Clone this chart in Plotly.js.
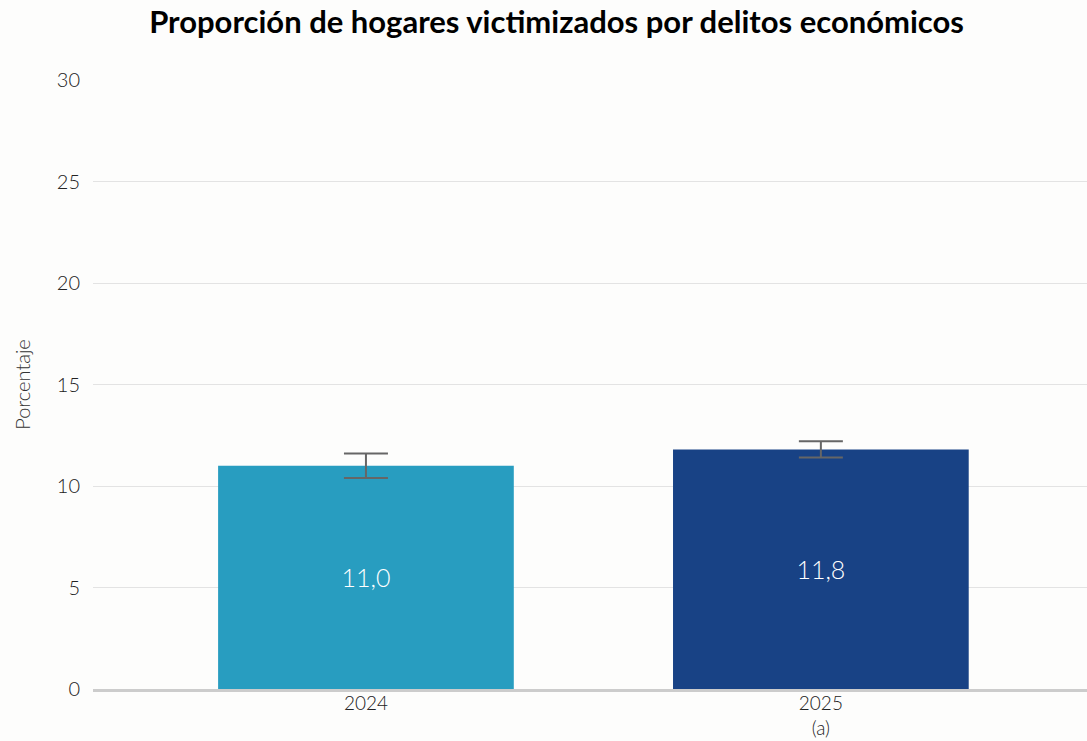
<!DOCTYPE html>
<html><head><meta charset="utf-8">
<script src="https://cdn.plot.ly/plotly-3.0.1.min.js"></script>
<style>html,body{margin:0;padding:0;background:#fdfdfc;}#chart{width:1087px;height:741px;}</style>
</head><body><div id="chart"></div>
<script>
const categories = ["2024", "2025<br>(a)"];
const values = [11.0, 11.8];
const errPlus = [0.6, 0.4];
const errMinus = [0.6, 0.4];
const labels = ["11,0", "11,8"];
const colors = ["#289DC0", "#184285"];

const trace = {
  type: "bar", x: categories, y: values,
  marker: {color: colors},
  width: 0.65,
  text: labels, textposition: "inside", insidetextanchor: "middle",
  textfont: {family: "Lato, sans-serif", size: 25, color: "#ffffff", weight: 300},
  error_y: {type: "data", symmetric: false, array: errPlus, arrayminus: errMinus,
            color: "#666666", thickness: 2, width: 22},
  hoverinfo: "none"
};
const layout = {
  width: 1087, height: 741,
  paper_bgcolor: "#fdfdfc", plot_bgcolor: "#fdfdfc",
  margin: {l: 93, r: 0, t: 80, b: 52},
  title: {text: "<b>Proporción de hogares victimizados por delitos económicos</b>",
          font: {family: "Lato, sans-serif", size: 31, color: "#000"}, x: 0.512, xanchor: "center", y: 0.97, yanchor: "middle"},
  xaxis: {type: "category", range: [-0.6, 1.585], tickfont: {family: "Lato, sans-serif", size: 19, color: "#222", weight: 300},
          showgrid: false, zeroline: false, showline: true, linecolor: "#cccccc", linewidth: 3, ticks: "", ticklabelstandoff: -5},
  yaxis: {range: [0, 30], dtick: 5, tickfont: {family: "Lato, sans-serif", size: 20, color: "#222", weight: 300},
          gridcolor: "#e3e3e3", gridwidth: 1, zeroline: false, ticks: "", ticklabelstandoff: 12,
          title: {text: "Porcentaje", font: {family: "Lato, sans-serif", size: 20, color: "#333", weight: 300}, standoff: 20}},
  showlegend: false
};
Plotly.newPlot("chart", [trace], layout, {displayModeBar: false, staticPlot: true});
</script></body></html>
